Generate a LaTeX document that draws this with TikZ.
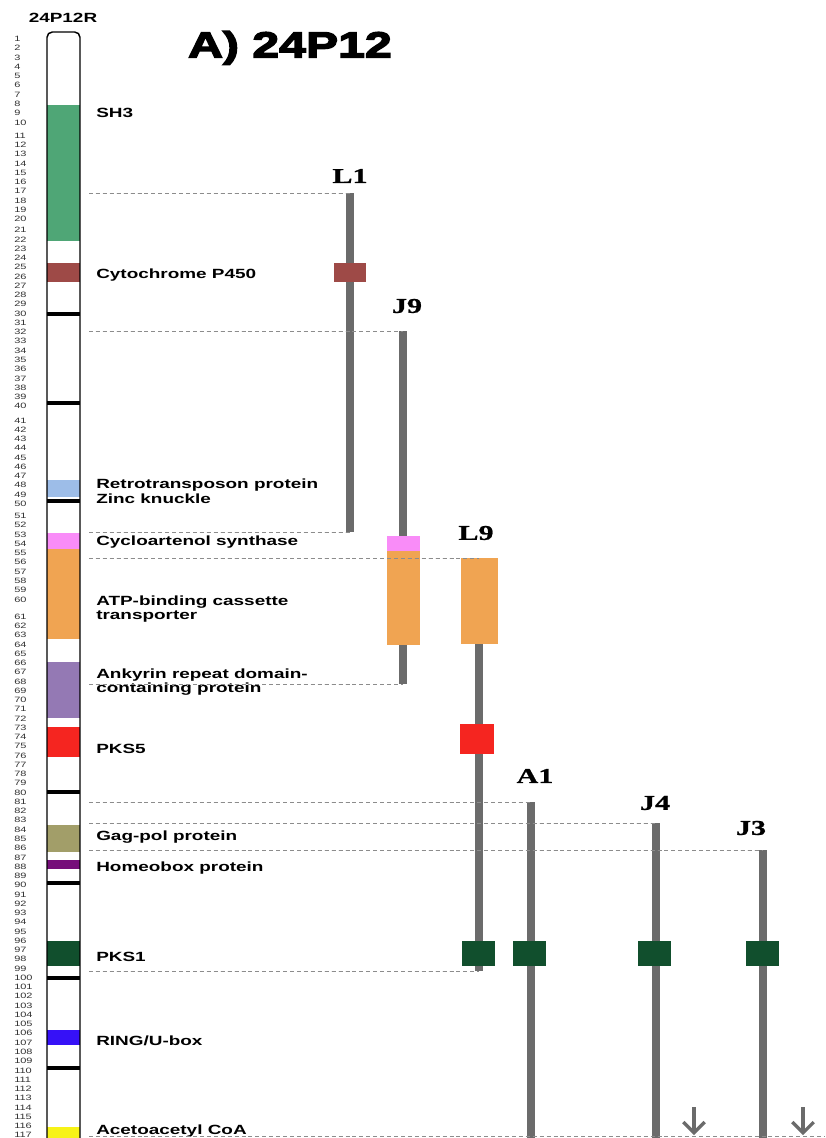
\documentclass[tikz,border=0pt]{standalone}
\usepackage{fontspec}
\usetikzlibrary{arrows.meta}
\newfontfamily\labfont[FakeStretch=1.42]{Liberation Sans}
\newfontfamily\ttlfont[FakeStretch=1.34,FakeBold=4]{Liberation Sans}
\newfontfamily\idfont[FakeStretch=1.43,FakeBold=1]{Liberation Serif}
\definecolor{shg}{HTML}{4FA676}
\definecolor{cyt}{HTML}{9E4A47}
\definecolor{retro}{HTML}{9DBDE8}
\definecolor{cyclo}{HTML}{F98CF8}
\definecolor{atp}{HTML}{F0A452}
\definecolor{ank}{HTML}{9479B4}
\definecolor{pksf}{HTML}{F52520}
\definecolor{gag}{HTML}{A29E69}
\definecolor{homeo}{HTML}{760E7A}
\definecolor{pkso}{HTML}{114F2D}
\definecolor{ring}{HTML}{3611F7}
\definecolor{aceto}{HTML}{F7F317}
\definecolor{barg}{HTML}{6B6B6B}
\tikzset{
  lab/.style={anchor=west, inner sep=0pt, align=left, font=\labfont\bfseries\fontsize{10}{11}\selectfont},
  num/.style={anchor=west, inner sep=0pt, text=black!80, font=\labfont\fontsize{5.8}{6}\selectfont},
  lineid/.style={inner sep=0pt, font=\idfont\bfseries\fontsize{15.8}{18}\selectfont},
  linebar/.style={draw=barg, line width=6pt},
  guide/.style={gray!90, line width=0.7pt, dash pattern=on 3pt off 2.2pt},
  downarr/.style={draw=barg, line width=2.4pt, -{Straight Barb[length=8pt,width=16pt]}},
}
\newcommand{\band}[3]{\fill[#1] (47,#2) rectangle (80,#3);}
\newcommand{\bline}[1]{\fill[black] (47,#1-2) rectangle (80,#1+2);}
\newcommand{\gbox}[5]{\fill[#1] (#2,#3) rectangle (#4,#5);}

\begin{document}
\begin{tikzpicture}[x=0.75pt,y=-0.75pt]
  \useasboundingbox[fill=white] (0,0) rectangle (825,1138);
  \node[inner sep=0pt, font=\ttlfont\bfseries\fontsize{27}{30}\selectfont] (title) at (290,48) {A) 24P12};
  \node[lab, anchor=center] (chrname) at (63,18) {24P12R};
  \foreach \n in {1,...,117} {
    \pgfmathsetmacro\yy{39+(\n-1)*9.26+4*(\n>10)+2*(\n>20)+5*(\n>40)+3*(\n>50)+8*(\n>60)}
    \node[num] (n\n) at (14,\yy) {\n};
  }
  \band{shg}{105}{241}
  \band{cyt}{263}{282}
  \bline{314}
  \bline{403}
  \band{retro}{480}{497}
  \bline{501}
  \band{cyclo}{533}{549}
  \band{atp}{549}{639}
  \band{ank}{662}{718}
  \band{pksf}{727}{757}
  \bline{792}
  \band{gag}{825}{852}
  \band{homeo}{860}{869}
  \bline{883}
  \band{pkso}{941}{966}
  \bline{978}
  \band{ring}{1030}{1045}
  \bline{1068}
  \band{aceto}{1127}{1140}
  \draw[line width=1.1pt, rounded corners=4pt] (47,1145) -- (47,32) -- (80,32) -- (80,1145);
  \node[lab] (sh3) at (96,113) {SH3};
  \node[lab] (p450) at (96,275) {Cytochrome P450};
  \node[lab] (retro) at (96,491) {Retrotransposon protein\\Zinc knuckle};
  \node[lab] (cyclo) at (96,542) {Cycloartenol synthase};
  \node[lab] (abc) at (96,609) {ATP-binding cassette\\transporter};
  \node[lab] (ank) at (96,682) {Ankyrin repeat domain-\\containing protein};
  \node[lab] (pks5) at (96,749) {PKS5};
  \node[lab] (gag) at (96,837) {Gag-pol protein};
  \node[lab] (homeo) at (96,868) {Homeobox protein};
  \node[lab] (pks1) at (96,957) {PKS1};
  \node[lab] (ring) at (96,1041) {RING/U-box};
  \node[lab] (aceto) at (96,1131) {Acetoacetyl CoA};
  \coordinate (edge) at (89,0);
  \coordinate (L1top) at (350,193);  \coordinate (L1bot) at (350,532);
  \coordinate (J9top) at (403,331);  \coordinate (J9bot) at (403,684);
  \coordinate (L9top) at (479,558);  \coordinate (L9bot) at (479,971);
  \coordinate (A1top) at (531,802);  \coordinate (A1bot) at (531,1138);
  \coordinate (J4top) at (656,823);  \coordinate (J4bot) at (656,1138);
  \coordinate (J3top) at (763,850);  \coordinate (J3bot) at (763,1138);
  \coordinate (rim) at (825,1136);
  \draw[linebar] (L1top) -- (L1bot);
  \draw[linebar] (J9top) -- (J9bot);
  \draw[linebar] (L9top) -- (L9bot);
  \draw[linebar] (A1top) -- (A1bot);
  \draw[linebar] (J4top) -- (J4bot);
  \draw[linebar] (J3top) -- (J3bot);
  \gbox{cyt}{334}{263}{366}{282}
  \gbox{cyclo}{387}{536}{420}{551}
  \gbox{atp}{387}{551}{420}{645}
  \gbox{atp}{461}{558}{498}{644}
  \gbox{pksf}{460}{724}{494}{754}
  \foreach \bx in {462,513,638,746}
    \gbox{pkso}{\bx}{941}{\bx+33}{966}
  \foreach \c in {L1top,J9top,L1bot,L9top,J9bot,A1top,J4top,J3top,L9bot}
    \draw[guide] (edge |- \c) -- (\c);
  \draw[guide] (edge |- rim) -- (rim);
  \node[lineid] (L1) at (350,176) {L1};
  \node[lineid] (J9) at (407,306) {J9};
  \node[lineid] (L9) at (476,533) {L9};
  \node[lineid] (A1) at (535,776) {A1};
  \node[lineid] (J4) at (655,803) {J4};
  \node[lineid] (J3) at (751,828) {J3};
  \coordinate (ar1) at (694,1107);  \coordinate (ar1e) at (694,1135);
  \coordinate (ar2) at (803,1107);  \coordinate (ar2e) at (803,1135);
  \draw[downarr] (ar1) -- (ar1e);
  \draw[downarr] (ar2) -- (ar2e);
\end{tikzpicture}
\end{document}
